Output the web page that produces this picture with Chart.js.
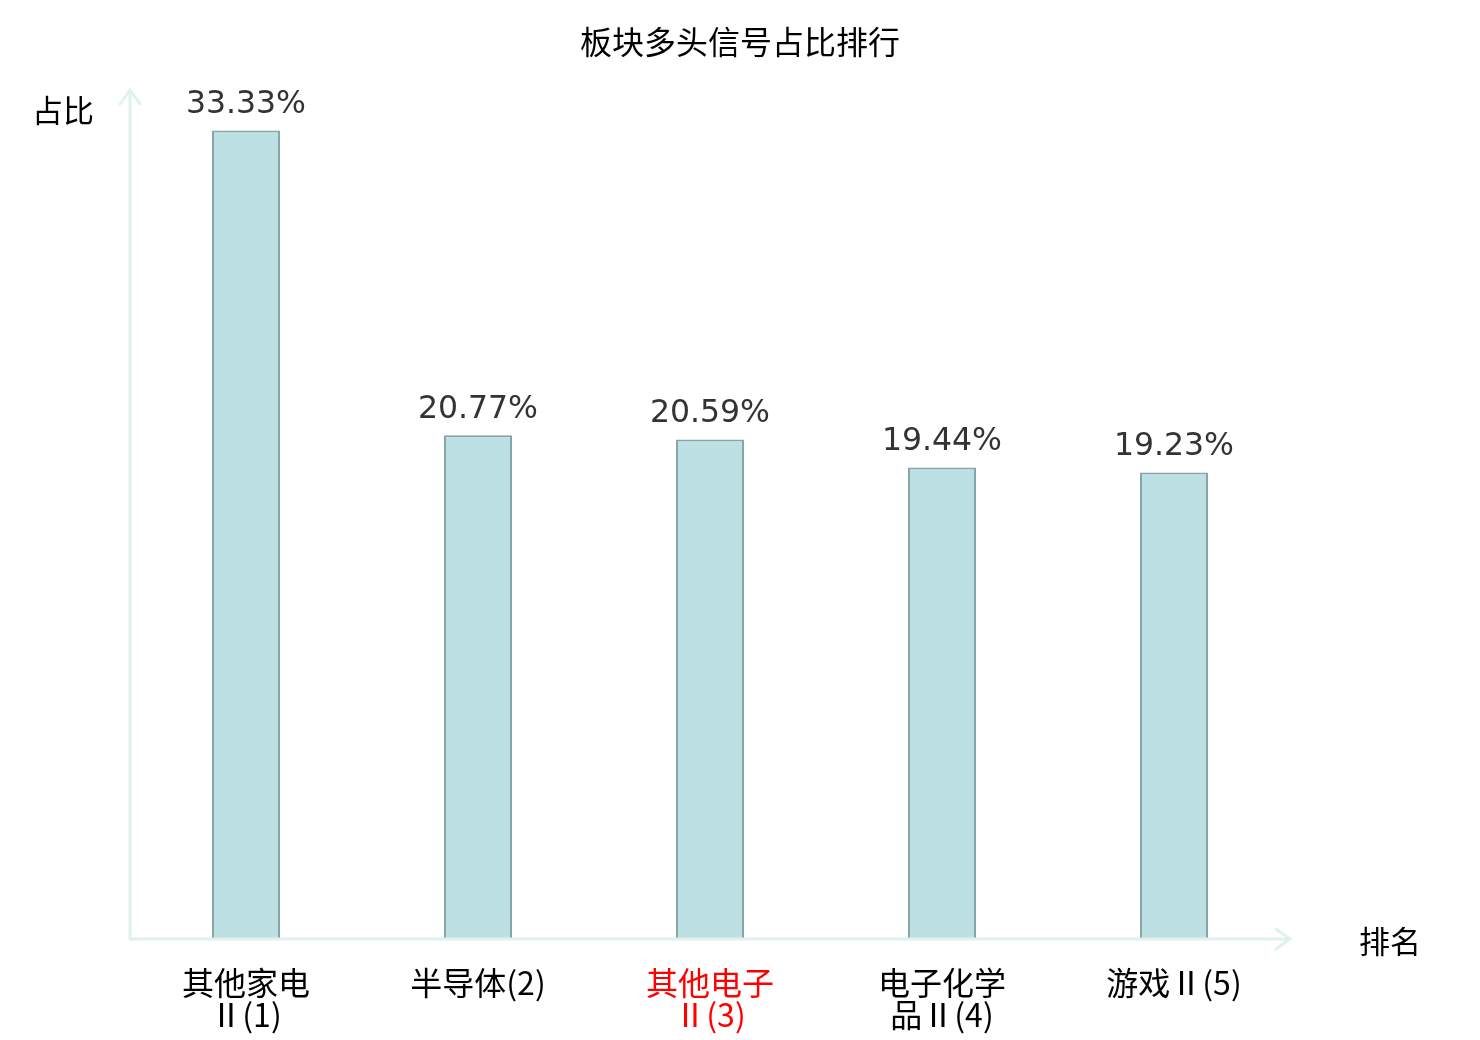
<!DOCTYPE html>
<html lang="zh">
<head>
  <meta charset="UTF-8">
  <title>板块多头信号占比排行</title>
  <script src="https://cdn.jsdelivr.net/npm/chart.js"></script>
  <style>
    body { margin: 0; background: #fff; }
    #wrap { width: 1480px; height: 1040px; position: relative; }
  </style>
</head>
<body>
<div id="wrap"><canvas id="rankChart"></canvas></div>
<script>
  // 数据
  var categories = [['其他家电', 'Ⅱ(1)'], ['半导体(2)'], ['其他电子', 'Ⅱ(3)'], ['电子化学', '品Ⅱ(4)'], ['游戏Ⅱ(5)']];
  var shares = [33.33, 20.77, 20.59, 19.44, 19.23];
  var highlightIndex = 2;
  var chartTitle = '板块多头信号占比排行';

  var axisColor = '#dff2ef';
  var cjkFont = '"Noto Sans CJK SC", "Noto Sans", sans-serif';

  // 标题、坐标轴箭头、轴名称、数值标签
  var decorPlugin = {
    id: 'decor',
    afterDatasetsDraw: function(chart) {
      var ctx = chart.ctx;
      var area = chart.chartArea;
      ctx.save();
      ctx.strokeStyle = axisColor;
      ctx.lineWidth = 3;
      ctx.lineCap = 'round';
      ctx.beginPath();
      ctx.moveTo(area.left, area.bottom);
      ctx.lineTo(area.left, area.top);
      ctx.moveTo(area.left - 10, area.top + 14);
      ctx.lineTo(area.left, area.top);
      ctx.lineTo(area.left + 10, area.top + 14);
      ctx.moveTo(area.left, area.bottom);
      ctx.lineTo(area.right, area.bottom);
      ctx.moveTo(area.right - 14, area.bottom - 10);
      ctx.lineTo(area.right, area.bottom);
      ctx.lineTo(area.right - 14, area.bottom + 10);
      ctx.stroke();

      ctx.fillStyle = '#000';
      ctx.textAlign = 'center';
      ctx.textBaseline = 'middle';
      ctx.font = '32px ' + cjkFont;
      ctx.fillText(chartTitle, chart.width / 2, 42);
      ctx.font = '31px ' + cjkFont;
      ctx.fillText('占比', area.left - 67, area.top + 20);
      ctx.fillText('排名', area.right + 100, area.bottom + 2);

      ctx.fillStyle = '#333';
      ctx.font = '31.5px "DejaVu Sans", sans-serif';
      ctx.textBaseline = 'bottom';
      var meta = chart.getDatasetMeta(0);
      meta.data.forEach(function(bar, i) {
        ctx.fillText(shares[i].toFixed(2) + '%', bar.x, bar.y - 10);
      });
      ctx.restore();
    }
  };

  var ctx = document.getElementById('rankChart').getContext('2d');
  var rankChart = new Chart(ctx, {
    type: 'bar',
    data: {
      labels: categories,
      datasets: [{
        label: '占比',
        data: shares,
        backgroundColor: '#bce0e3',
        borderColor: '#88a4a4',
        borderWidth: 2,
        barPercentage: 0.293,
        categoryPercentage: 1
      }]
    },
    options: {
      responsive: true,
      maintainAspectRatio: false,
      animation: false,
      layout: { padding: { left: 130, right: 190, top: 90, bottom: 0 } },
      plugins: {
        legend: { display: false },
        tooltip: { enabled: false },
        title: { display: false }
      },
      scales: {
        x: {
          offset: true,
          grid: { display: false, drawTicks: false },
          border: { display: false },
          ticks: {
            padding: 28,
            maxRotation: 0,
            autoSkip: false,
            font: { family: cjkFont, size: 32, lineHeight: 1.0 },
            color: function(c) { return c.index === highlightIndex ? '#ff0000' : '#000'; }
          },
          afterFit: function(scale) { scale.height = 101; }
        },
        y: {
          display: false,
          min: 0,
          max: 35
        }
      }
    },
    plugins: [decorPlugin]
  });
</script>
</body>
</html>
